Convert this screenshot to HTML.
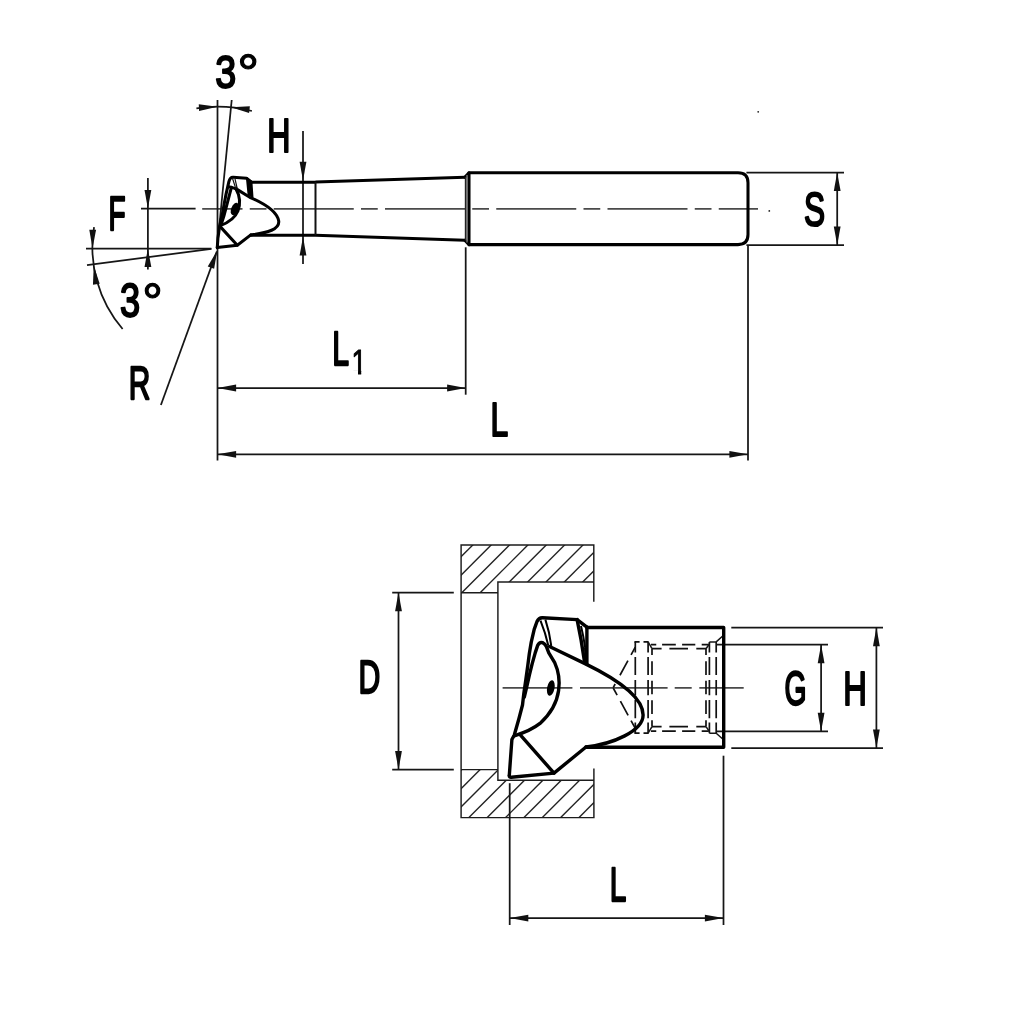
<!DOCTYPE html>
<html lang="en"><head><meta charset="utf-8"><title>Tool dimension drawing</title>
<style>
html,body{margin:0;padding:0;background:#fff}
svg{display:block}
.t{stroke:#161616;stroke-width:1.75;fill:none}
.w{stroke:#1c1c1c;stroke-width:1.45;fill:none;stroke-linecap:square}
.t2{stroke:#161616;stroke-width:1.5;fill:none}
.h{stroke:#222;stroke-width:1.4;fill:none}
.c{stroke:#4a4a4a;stroke-width:1.8;fill:none}
.d{stroke:#111;stroke-width:1.7;fill:none}
.d2{stroke:#111;stroke-width:1.7;fill:none;stroke-dasharray:13 4}
.k{stroke:#000;stroke-width:3.4;fill:none;stroke-linejoin:round;stroke-linecap:round}
.k1{stroke:#000;stroke-width:3.05;fill:none;stroke-linejoin:round;stroke-linecap:round}
.a{fill:#111;stroke:none}
.lbl text{font-family:"Liberation Sans",sans-serif;fill:#000;stroke:#000;stroke-width:1.9;vector-effect:non-scaling-stroke;stroke-linejoin:round}
</style></head>
<body>
<svg width="1024" height="1024" viewBox="0 0 1024 1024">
<rect width="1024" height="1024" fill="#fff"/>
<g id="top">
<line class="c" x1="202.2" y1="208.8" x2="758" y2="208.8" stroke-dasharray="80 7.25 16.75 7.25" stroke-dashoffset="39.7"/>
<line class="t" x1="141.00" y1="208.50" x2="195.60" y2="208.50"/>
<line class="t" x1="217.50" y1="100.00" x2="217.50" y2="460.60"/>
<line class="t" x1="231.70" y1="100.00" x2="217.90" y2="240.00"/>
<path class="t" d="M196.40,108.27 A140.8,140.8 0 0 1 251.90,110.99"/>
<polygon class="a" points="217.50,106.70 199.09,111.02 198.75,104.23"/>
<polygon class="a" points="231.00,107.30 249.87,106.14 249.06,112.89"/>
<line class="t" x1="303.00" y1="131.00" x2="303.00" y2="264.00"/>
<polygon class="a" points="303.00,180.40 299.60,161.80 306.40,161.80"/>
<polygon class="a" points="303.00,236.90 306.40,255.50 299.60,255.50"/>
<line class="t" x1="147.90" y1="178.00" x2="147.90" y2="269.60"/>
<polygon class="a" points="147.90,208.50 144.50,189.90 151.30,189.90"/>
<polygon class="a" points="147.90,248.50 151.30,267.10 144.50,267.10"/>
<line class="t" x1="86.00" y1="248.50" x2="211.40" y2="248.50"/>
<line class="t" x1="87.00" y1="265.10" x2="211.40" y2="248.90"/>
<path class="t" d="M94.06,227.20 A125.0,125.0 0 0 0 122.62,329.00"/>
<polygon class="a" points="92.50,248.30 89.29,229.67 96.09,229.73"/>
<polygon class="a" points="93.75,265.80 99.70,283.75 92.96,284.69"/>
<line class="t" x1="160.90" y1="405.00" x2="216.80" y2="251.50"/>
<polygon class="a" points="217.30,250.20 214.13,268.84 207.74,266.51"/>
<line class="t" x1="217.50" y1="388.00" x2="465.70" y2="388.00"/>
<polygon class="a" points="217.50,388.00 236.10,384.60 236.10,391.40"/>
<polygon class="a" points="465.70,388.00 447.10,391.40 447.10,384.60"/>
<line class="t" x1="465.70" y1="247.30" x2="465.70" y2="394.70"/>
<line class="t" x1="217.50" y1="454.30" x2="748.00" y2="454.30"/>
<polygon class="a" points="217.50,454.30 236.10,450.90 236.10,457.70"/>
<polygon class="a" points="748.00,454.30 729.40,457.70 729.40,450.90"/>
<line class="t" x1="748.00" y1="245.00" x2="748.00" y2="460.60"/>
<line class="t" x1="746.40" y1="172.50" x2="844.00" y2="172.50"/>
<line class="t" x1="746.40" y1="245.00" x2="844.00" y2="245.00"/>
<line class="t" x1="837.20" y1="172.50" x2="837.20" y2="245.00"/>
<polygon class="a" points="837.20,172.50 840.60,191.10 833.80,191.10"/>
<polygon class="a" points="837.20,245.00 833.80,226.40 840.60,226.40"/>
<circle cx="769.3" cy="210.9" r="0.9" fill="#222"/>
<circle cx="758.2" cy="111.8" r="0.9" fill="#222"/>
<path class="k1" d="M469,172.8 L738,172.8 Q748,172.8 748,182.8 L748,234.6 Q748,244.6 738,244.6 L469,244.6 Z"/>
<path class="k1" d="M464.8,177.2 L469,172.8 M464.8,240.3 L469,244.6"/>
<path class="k1" d="M251.2,182.2 L315.5,182.1 L465,177.2"/>
<path class="k1" d="M250.8,235.2 L315.5,235.2 L465,240.3"/>
<line x1="465.6" y1="177" x2="465.6" y2="240.5" stroke="#222" stroke-width="1.6"/>
<line x1="467" y1="175" x2="467" y2="242.5" stroke="#666" stroke-width="1.6"/>
<line x1="315.5" y1="182" x2="315.5" y2="235.2" stroke="#111" stroke-width="2"/>
<path class="k1" d="M217.3,247.6 L217.9,238.3 L219.7,225.8 L222.2,214.9 L224.1,204.2 L226,194.4 L228.2,184.6 L228.9,181.6 Q230,177 233.2,177.2 L246.5,178.2 L251.2,182.2"/>
<path class="k1" d="M217.2,247.6 L237.3,245.2 L250.8,234.9"/>
<path class="k1" d="M231.4,187.3 L227.3,203.2 L223.8,216.4 L221,225"/>
<path class="k1" d="M229.5,186.9 L235.8,188.6"/>
<path class="k1" d="M235.8,188.6 L249.8,197.3 C262,202.5 277,211 278.7,221 C279.7,229 268,233 250.8,234.9"/>
<path class="k1" d="M235.8,188.6 C239.4,195 240.9,203 237.9,211 C235,218 228,222.8 220.3,225.6"/>
<path class="k1" d="M220.9,227.4 L237.3,245.2"/>
<polygon points="246.7,177.8 251.6,181.5 252.7,197.2 248.3,194" fill="#000" stroke="#000" stroke-width="1.6" stroke-linejoin="round"/>
<path d="M232.3,177.8 L235.8,188.6 M235,178.8 L237.3,189" stroke="#111" stroke-width="1.2" fill="none"/>
<ellipse cx="234.8" cy="209" rx="3.6" ry="6.5" transform="rotate(22 234.8 209)" fill="#000"/>
</g>
<g id="bottom">
<clipPath id="h1"><polygon points="461.1,545 593.8,545 593.8,582 497.9,582 497.9,592.8 461.1,592.8"/></clipPath>
<clipPath id="h2"><polygon points="461.1,769.6 497.9,769.6 497.9,780.3 593.9,780.3 593.9,817.6 461.1,817.6"/></clipPath>
<g clip-path="url(#h1)">
<line class="h" x1="459.44" y1="540.00" x2="401.44" y2="598.00"/>
<line class="h" x1="477.80" y1="540.00" x2="419.80" y2="598.00"/>
<line class="h" x1="496.16" y1="540.00" x2="438.16" y2="598.00"/>
<line class="h" x1="514.52" y1="540.00" x2="456.52" y2="598.00"/>
<line class="h" x1="532.88" y1="540.00" x2="474.88" y2="598.00"/>
<line class="h" x1="551.24" y1="540.00" x2="493.24" y2="598.00"/>
<line class="h" x1="569.60" y1="540.00" x2="511.60" y2="598.00"/>
<line class="h" x1="587.96" y1="540.00" x2="529.96" y2="598.00"/>
<line class="h" x1="606.32" y1="540.00" x2="548.32" y2="598.00"/>
<line class="h" x1="624.68" y1="540.00" x2="566.68" y2="598.00"/>
<line class="h" x1="643.04" y1="540.00" x2="585.04" y2="598.00"/>
</g>
<g clip-path="url(#h2)">
<line class="h" x1="448.96" y1="764.00" x2="389.96" y2="823.00"/>
<line class="h" x1="467.32" y1="764.00" x2="408.32" y2="823.00"/>
<line class="h" x1="485.68" y1="764.00" x2="426.68" y2="823.00"/>
<line class="h" x1="504.04" y1="764.00" x2="445.04" y2="823.00"/>
<line class="h" x1="522.40" y1="764.00" x2="463.40" y2="823.00"/>
<line class="h" x1="540.76" y1="764.00" x2="481.76" y2="823.00"/>
<line class="h" x1="559.12" y1="764.00" x2="500.12" y2="823.00"/>
<line class="h" x1="577.48" y1="764.00" x2="518.48" y2="823.00"/>
<line class="h" x1="595.84" y1="764.00" x2="536.84" y2="823.00"/>
<line class="h" x1="614.20" y1="764.00" x2="555.20" y2="823.00"/>
<line class="h" x1="632.56" y1="764.00" x2="573.56" y2="823.00"/>
<line class="h" x1="650.92" y1="764.00" x2="591.92" y2="823.00"/>
<line class="h" x1="669.28" y1="764.00" x2="610.28" y2="823.00"/>
</g>
<path class="w" d="M461.1,545 L593.8,545 M461.1,545 L461.1,817.6 L593.9,817.6 M593.8,545 L593.8,601 M593.9,769.3 L593.9,817.6 M461.1,592.8 L497.9,592.8 M593.8,582 L497.9,582 L497.9,780.3 L593.9,780.3 M461.1,769.6 L497.9,769.6"/>
<line class="t" x1="392.20" y1="592.60" x2="453.80" y2="592.60"/>
<line class="t" x1="392.20" y1="769.70" x2="453.80" y2="769.70"/>
<line class="t" x1="398.50" y1="592.60" x2="398.50" y2="769.70"/>
<polygon class="a" points="398.50,592.60 401.90,611.20 395.10,611.20"/>
<polygon class="a" points="398.50,769.70 395.10,751.10 401.90,751.10"/>
<line class="c" x1="502.6" y1="687.9" x2="743.7" y2="687.9" stroke-dasharray="69.8 7.6 87.6 7.1 17 7.6 44.4"/>
<line class="t" x1="731.30" y1="627.60" x2="883.00" y2="627.60"/>
<line class="t" x1="731.30" y1="748.00" x2="883.00" y2="748.00"/>
<line class="t" x1="876.40" y1="627.60" x2="876.40" y2="748.00"/>
<polygon class="a" points="876.40,627.60 879.80,646.20 873.00,646.20"/>
<polygon class="a" points="876.40,748.00 873.00,729.40 879.80,729.40"/>
<line class="t" x1="716.50" y1="644.60" x2="828.00" y2="644.60"/>
<line class="t" x1="716.50" y1="731.40" x2="828.00" y2="731.40"/>
<line class="t" x1="821.10" y1="644.60" x2="821.10" y2="731.40"/>
<polygon class="a" points="821.10,644.60 824.50,663.20 817.70,663.20"/>
<polygon class="a" points="821.10,731.40 817.70,712.80 824.50,712.80"/>
<line class="t" x1="509.70" y1="783.20" x2="509.70" y2="925.00"/>
<line class="t" x1="723.50" y1="755.70" x2="723.50" y2="925.00"/>
<line class="t" x1="509.70" y1="918.10" x2="723.50" y2="918.10"/>
<polygon class="a" points="509.70,918.10 528.30,914.70 528.30,921.50"/>
<polygon class="a" points="723.50,918.10 704.90,921.50 704.90,914.70"/>
<line class="d" x1="635.3" y1="641.9" x2="635.3" y2="733.2" stroke-dasharray="10.6 4.4 18.1 4.9 15.3 4.9 18.1 4.4 10.6"/>
<line class="d" x1="648.1" y1="641.9" x2="648.1" y2="733.2" stroke-dasharray="10.6 4.4 18.1 4.9 15.3 4.9 18.1 4.4 10.6"/>
<line class="d" x1="709.4" y1="641.9" x2="709.4" y2="733.2" stroke-dasharray="10.6 4.4 18.1 4.9 15.3 4.9 18.1 4.4 10.6"/>
<line class="d" x1="716.2" y1="641.9" x2="716.2" y2="733.2" stroke-dasharray="10.6 4.4 18.1 4.9 15.3 4.9 18.1 4.4 10.6"/>
<line class="d" x1="652" y1="648.7" x2="652" y2="726.6" stroke-dasharray="6.3 6.3 13.7 5.8 13.5 6 13.7 6.3 6.3"/>
<line class="d" x1="706" y1="648.7" x2="706" y2="726.6" stroke-dasharray="6.3 6.3 13.7 5.8 13.5 6 13.7 6.3 6.3"/>
<line class="d" x1="648.1" y1="644.6" x2="708.7" y2="644.6" stroke-dasharray="0 2.8 5.35 5.85 13.7 6.3 13.2 6.4 7"/>
<line class="d" x1="648.1" y1="731.2" x2="708.7" y2="731.2" stroke-dasharray="0 2.8 5.35 5.85 13.7 6.3 13.2 6.4 7"/>
<line class="d" x1="652" y1="648.7" x2="706" y2="648.7" stroke-dasharray="9.6 7.8 18.6 8.3 9.7"/>
<line class="d" x1="652" y1="726.6" x2="706" y2="726.6" stroke-dasharray="9.6 7.8 18.6 8.3 9.7"/>
<line class="d" x1="634.4" y1="641.9" x2="648.6" y2="641.9" stroke-dasharray="5.2 3.9 5.1"/>
<line class="d" x1="634.4" y1="733.2" x2="648.6" y2="733.2" stroke-dasharray="5.2 3.9 5.1"/>
<path class="t2" d="M648.1,641.9 L652,648.7 M648.1,733.2 L652,726.6 M706,648.7 L709.4,644 M706,726.6 L709.4,731.5"/>
<path class="t2" d="M709.4,641.9 L716.2,641.9 M709.4,733.2 L716.2,733.2 M716.2,641.9 L723,635.7 M716.2,733.2 L723,739.2"/>
<line class="d" x1="613.2" y1="687.6" x2="635.3" y2="647.2" stroke-dasharray="4.1 10 16.6 6.5 9"/>
<line class="d" x1="613.2" y1="688" x2="635.3" y2="728.4" stroke-dasharray="8.2 6.8 16.1 6.1 9"/>
<path class="k" d="M586.9,627.5 L723.7,627.5 L723.7,747.2 L586,747.2"/>
<path class="k" d="M509.3,775.5 L510.4,760 L511.9,739.5 L514.3,735 L518.9,718.7 L522.5,705 L523.9,692.9 L525.9,679.2 L527.8,665.5 L529.3,653.8 L531.25,642.1 L534.2,629.4 L537,621.5 Q538.8,617.5 542.5,617.7 L577.1,619.6 L586.9,627.2"/>
<path class="k" d="M509.3,775.5 Q509.2,777.6 511.3,777.3 L554,773.1 L586,747"/>
<path class="k" d="M524.3,697 L526.9,686 L529.3,675.3 L532.2,663.6 L535.2,652.9 L537.6,645.6 Q539.5,641.6 542.6,642.6 Q545,643.6 546.5,646.8 L548.8,652.9 L554.7,662.6 C558.5,671 560,681 558.6,690.5 C557,702 551,713.5 540,723.4 C533,729 525,732.5 514.3,735.8"/>
<path class="k" d="M549.5,646.5 L585,663.6 C612,676.7 643.1,695 643.1,715 C643.1,731 613,744 586,747"/>
<path class="k" d="M520.5,735.2 L554,773.1"/>
<path class="k" d="M577.1,619.6 Q581.5,640 584.4,661"/>
<path class="k" d="M586.9,627.2 L586.9,664"/>
<path d="M581,626 Q583.5,636 585.2,648" stroke="#000" stroke-width="2" fill="none"/>
<polygon points="584,648 586.9,648 586.9,663.5 584.6,661.5" fill="#000"/>
<path d="M540.5,620.6 Q545.5,633 548.3,645.5 M545.4,619.6 Q549.5,632 551.3,646" stroke="#000" stroke-width="2" fill="none"/>
<ellipse cx="550.8" cy="688" rx="3.7" ry="7.8" transform="rotate(11 550.8 688)" fill="#000"/>
</g>
<g id="labels" class="lbl" opacity="0.999">
<text transform="translate(215.34,87.88) scale(0.8005,1)" font-size="47.04">3</text>
<text transform="translate(237.32,90.85) scale(1.0552,1)" font-size="51.79" style="stroke-width:1.2">°</text>
<text transform="translate(267.14,151.75) scale(0.6784,1)" font-size="47.25">H</text>
<text transform="translate(108.51,229.75) scale(0.5900,1)" font-size="47.39">F</text>
<text transform="translate(119.90,316.78) scale(0.7666,1)" font-size="47.18">3</text>
<text transform="translate(142.21,319.65) scale(0.9931,1)" font-size="51.79" style="stroke-width:1.2">°</text>
<text transform="translate(128.86,398.55) scale(0.6412,1)" font-size="46.52">R</text>
<text transform="translate(332.33,364.75) scale(0.6320,1)" font-size="47.83">L</text>
<clipPath id="one"><rect x="-5" y="-35.22" width="17.39" height="31.07"/><rect x="8.21" y="-4.35" width="4.17" height="7.15"/></clipPath>
<text transform="translate(351.59,374.30) scale(0.7809,1)" font-size="35.22" style="stroke-width:1.0" clip-path="url(#one)">1</text>
<text transform="translate(490.50,436.05) scale(0.6693,1)" font-size="47.54">L</text>
<text transform="translate(803.97,226.18) scale(0.6653,1)" font-size="47.46">S</text>
<text transform="translate(358.54,693.35) scale(0.6465,1)" font-size="46.67">D</text>
<text transform="translate(784.53,704.77) scale(0.5911,1)" font-size="47.89">G</text>
<text transform="translate(843.34,704.75) scale(0.6895,1)" font-size="47.39">H</text>
<text transform="translate(609.87,901.35) scale(0.6302,1)" font-size="47.25">L</text>
</g>
</svg>
</body></html>
